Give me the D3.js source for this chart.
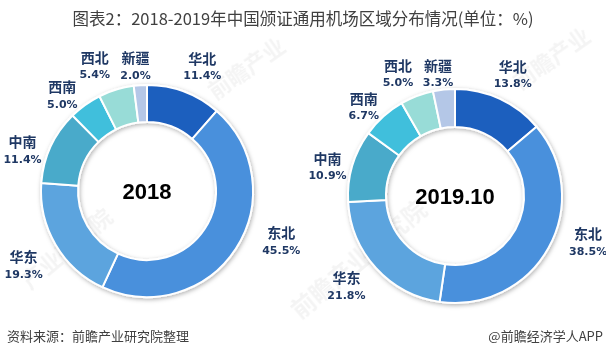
<!DOCTYPE html>
<html><head><meta charset="utf-8">
<script src="https://cdn.jsdelivr.net/npm/d3@7/dist/d3.min.js"></script>
<style>
html,body{margin:0;padding:0;background:#fff;}
svg{display:block;}
</style></head>
<body><svg id="c" width="606" height="356"></svg>
<script>
// ---- data ----
const regions = ["华北","东北","华东","中南","西南","西北","新疆"];
const values2018 = [11.4,45.5,19.3,11.4,5.0,5.4,2.0];
const values2019 = [13.8,38.5,21.8,10.9,6.7,5.0,3.3];
const yearLabels = ["2018","2019.10"];
const titleText = "图表2：2018-2019年中国颁证通用机场区域分布情况(单位：%)";
const sourceText = "资料来源：前瞻产业研究院整理";
const brandText = "@前瞻经济学人APP";

// ---- styling / layout ----
const colors = ["#1f5fbe","#4a90dc","#5ca4de","#4aaaca","#40bfdc","#98dcd7","#b4c7e7"];
const donuts = [
  {values: values2018, label: yearLabels[0], cx:147, cy:191, rOut:106, rIn:69,
   nudge:[[8,2],[21,-23],[-7,6],[-2,16],[-6,14],[-13,4],[-3,10]]},
  {values: values2019, label: yearLabels[1], cx:455, cy:196, rOut:107, rIn:69,
   nudge:[[1,1],[15,-19],[-9,-1],[2,9],[-1,11],[-9,4],[-3,12]]}
];
const labelR = 135;
const navy = "#1f3864";

const svg = d3.select("#c");
const defs = svg.append("defs");
const f = defs.append("filter").attr("id","sh").attr("x","-20%").attr("y","-20%").attr("width","140%").attr("height","140%");
f.append("feDropShadow").attr("dx",1).attr("dy",1.5).attr("stdDeviation",2).attr("flood-color","#000").attr("flood-opacity",0.3);

// watermarks (faint)
const wm = svg.append("g").attr("fill","#000").attr("opacity",0.045)
  .attr("font-family","Noto Sans CJK SC").attr("font-weight","bold");
wm.append("text").attr("transform","translate(215,100) rotate(-35)").attr("font-size",22).text("前瞻产业");
wm.append("text").attr("transform","translate(30,290) rotate(-40)").attr("font-size",22).text("产业研究院");
wm.append("text").attr("transform","translate(300,320) rotate(-40)").attr("font-size",24).text("前瞻产业研究院");
wm.append("text").attr("transform","translate(520,90) rotate(-35)").attr("font-size",22).text("前瞻产业");

// title
svg.append("text").attr("x",303).attr("y",18).attr("text-anchor","middle")
  .attr("dominant-baseline","central")
  .attr("font-family","Noto Sans CJK SC").attr("font-size",16.5).attr("fill","#404040")
  .text(titleText);

const pie = d3.pie().sort(null).value(d=>d);

donuts.forEach(dn=>{
  const g = svg.append("g").attr("transform",`translate(${dn.cx},${dn.cy})`);
  const arc = d3.arc().innerRadius(dn.rIn).outerRadius(dn.rOut);
  const arcs = pie(dn.values);
  g.append("g").attr("filter","url(#sh)")
    .selectAll("path").data(arcs).join("path")
    .attr("d",arc).attr("fill",(d,i)=>colors[i])
    .attr("stroke","#fff").attr("stroke-width",2).attr("stroke-linejoin","round");
  const lab = g.append("g");
  arcs.forEach((d,i)=>{
    const a = (d.startAngle+d.endAngle)/2;
    const x = labelR*Math.sin(a) + dn.nudge[i][0];
    const y = -labelR*Math.cos(a) + dn.nudge[i][1];
    lab.append("text").attr("x",x).attr("y",y-9).attr("text-anchor","middle")
      .attr("dominant-baseline","central")
      .attr("font-family","Noto Sans CJK SC").attr("font-weight","bold")
      .attr("font-size",14).attr("fill",navy).text(regions[i]);
    lab.append("text").attr("x",x).attr("y",y+9).attr("text-anchor","middle")
      .attr("dominant-baseline","central")
      .attr("font-family","DejaVu Sans").attr("font-weight","bold")
      .attr("font-size",11).attr("fill",navy).text(d3.format(".1f")(d.data)+"%");
  });
  g.append("text").attr("x",0).attr("y",0).attr("text-anchor","middle")
    .attr("dominant-baseline","central")
    .attr("font-family","Liberation Sans").attr("font-weight","bold")
    .attr("font-size",22).attr("fill","#000").text(dn.label);
});

// footer
svg.append("text").attr("x",7).attr("y",335).attr("dominant-baseline","central")
  .attr("font-family","Noto Sans CJK SC").attr("font-size",13).attr("fill","#404040").text(sourceText);
svg.append("text").attr("x",603).attr("y",335).attr("text-anchor","end").attr("dominant-baseline","central")
  .attr("font-family","Noto Sans CJK SC").attr("font-size",13).attr("fill","#404040").text(brandText);
</script></body></html>
